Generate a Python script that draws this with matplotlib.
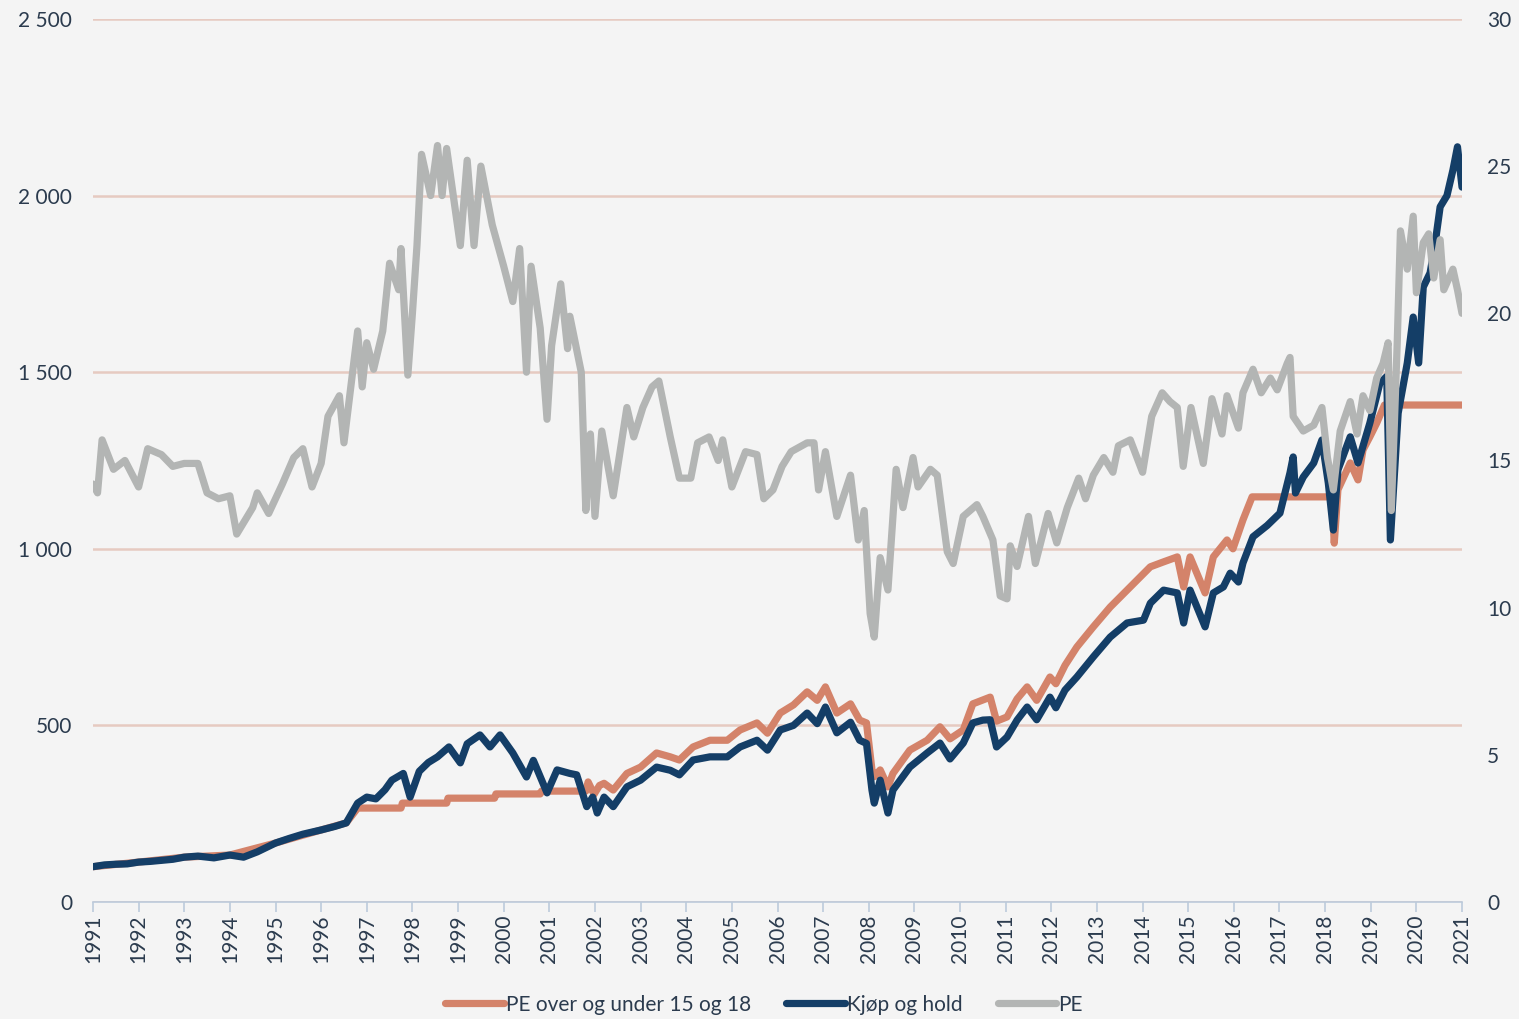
import matplotlib
matplotlib.use("Agg")
import matplotlib.pyplot as plt
from matplotlib.ticker import FuncFormatter, MultipleLocator

# values (decimal year, value)
kjop_aar = [1991.0, 1991.25, 1991.5, 1991.75, 1992.0, 1992.25, 1992.5, 1992.75, 1993.0, 1993.3,
            1993.65, 1994.0, 1994.3, 1994.6, 1995.0, 1995.3, 1995.6, 1996.0, 1996.3, 1996.55,
            1996.8, 1997.0, 1997.2, 1997.4, 1997.55, 1997.8, 1997.95, 1998.15, 1998.35, 1998.55,
            1998.8, 1999.05, 1999.2, 1999.48, 1999.7, 1999.92, 2000.2, 2000.5, 2000.65, 2000.95,
            2001.17, 2001.45, 2001.6, 2001.82, 2001.95, 2002.05, 2002.2, 2002.4, 2002.7, 2003.0,
            2003.35, 2003.65, 2003.85, 2004.15, 2004.52, 2004.9, 2005.18, 2005.55, 2005.78, 2006.06,
            2006.35, 2006.65, 2006.87, 2007.05, 2007.3, 2007.6, 2007.8, 2007.95, 2008.07, 2008.12,
            2008.25, 2008.42, 2008.53, 2008.9, 2009.28, 2009.56, 2009.78, 2010.07, 2010.28, 2010.5,
            2010.66, 2010.8, 2011.03, 2011.25, 2011.47, 2011.68, 2011.97, 2012.1, 2012.3, 2012.56,
            2012.92, 2013.29, 2013.66, 2014.02, 2014.17, 2014.46, 2014.76, 2014.9, 2015.04, 2015.37,
            2015.55, 2015.77, 2015.92, 2016.1, 2016.2, 2016.42, 2016.73, 2017.01, 2017.23, 2017.3,
            2017.35, 2017.52, 2017.75, 2017.93, 2018.07, 2018.18, 2018.28, 2018.55, 2018.72, 2018.98,
            2019.2, 2019.35, 2019.43, 2019.6, 2019.8, 2019.93, 2020.05, 2020.15, 2020.3, 2020.4,
            2020.52, 2020.67, 2020.8, 2020.9, 2021.0]
kjop_og_hold = [100, 105, 107, 108, 113, 115, 118, 121, 127, 130,
                125, 133, 127, 142, 167, 180, 192, 204, 214, 224,
                280, 297, 292, 318, 345, 364, 297, 370, 395, 411,
                439, 394, 448, 473, 439, 473, 422, 354, 401, 309,
                374, 364, 360, 270, 297, 252, 297, 270, 326, 345,
                382, 373, 360, 402, 411, 411, 439, 458, 430, 487,
                500, 535, 505, 552, 479, 509, 458, 449, 317, 280,
                345, 252, 317, 382, 422, 450, 405, 450, 507, 515,
                516, 439, 467, 515, 552, 516, 580, 550, 600, 637,
                694, 750, 790, 798, 846, 883, 875, 790, 883, 779,
                875, 892, 931, 906, 960, 1034, 1066, 1101, 1215, 1260,
                1158, 1203, 1243, 1308, 1186, 1053, 1223, 1317, 1243, 1356,
                1469, 1488, 1025, 1384, 1526, 1656, 1526, 1741, 1781, 1855,
                1968, 2000, 2072, 2138, 2024]

pe_strat_aar = [1991.0, 1992.0, 1993.0, 1994.0, 1995.0, 1996.0, 1996.55, 1996.8, 1997.75, 1997.78,
                1998.75, 1998.78, 1999.8, 1999.83, 2000.8, 2000.83, 2001.8, 2001.85, 2001.98, 2002.1,
                2002.2, 2002.4, 2002.7, 2003.0, 2003.35, 2003.65, 2003.85, 2004.15, 2004.52, 2004.9,
                2005.18, 2005.55, 2005.78, 2006.06, 2006.35, 2006.65, 2006.87, 2007.05, 2007.3, 2007.6,
                2007.8, 2007.95, 2008.07, 2008.12, 2008.25, 2008.42, 2008.53, 2008.9, 2009.28, 2009.56,
                2009.78, 2010.07, 2010.28, 2010.5, 2010.66, 2010.8, 2011.03, 2011.25, 2011.47, 2011.68,
                2011.97, 2012.1, 2012.3, 2012.56, 2012.92, 2013.29, 2013.73, 2014.17, 2014.46, 2014.76,
                2014.9, 2015.04, 2015.37, 2015.55, 2015.85, 2015.98, 2016.2, 2016.4, 2018.15, 2018.2,
                2018.28, 2018.55, 2018.72, 2018.83, 2018.98, 2019.13, 2019.3, 2021.0]
pe_strategi = [100, 113, 127, 133, 167, 204, 224, 266, 266, 280,
               280, 294, 294, 306, 306, 314, 314, 340, 305, 330,
               336, 317, 364, 382, 422, 411, 402, 439, 458, 458,
               487, 507, 478, 535, 558, 595, 571, 609, 535, 561,
               515, 507, 374, 355, 374, 326, 364, 430, 458, 496,
               462, 487, 561, 572, 580, 512, 524, 575, 609, 571,
               637, 618, 670, 722, 779, 835, 892, 949, 963, 977,
               892, 977, 875, 977, 1025, 1000, 1082, 1147, 1147, 1016,
               1167, 1243, 1195, 1280, 1317, 1356, 1407, 1407]

pe_aar = [1991.0, 1991.1, 1991.2, 1991.45, 1991.7, 1992.0, 1992.2, 1992.5, 1992.75, 1993.0,
          1993.3, 1993.5, 1993.75, 1994.0, 1994.15, 1994.5, 1994.6, 1994.85, 1995.15, 1995.4,
          1995.6, 1995.8, 1996.0, 1996.15, 1996.4, 1996.5, 1996.8, 1996.9, 1997.0, 1997.15,
          1997.35, 1997.5, 1997.7, 1997.75, 1997.9, 1998.0, 1998.1, 1998.2, 1998.4, 1998.55,
          1998.65, 1998.75, 1999.05, 1999.2, 1999.35, 1999.5, 1999.75, 2000.0, 2000.2, 2000.35,
          2000.5, 2000.6, 2000.8, 2000.95, 2001.05, 2001.25, 2001.4, 2001.45, 2001.7, 2001.8,
          2001.9, 2002.0, 2002.15, 2002.4, 2002.7, 2002.85, 2003.05, 2003.25, 2003.4, 2003.65,
          2003.85, 2004.1, 2004.25, 2004.5, 2004.7, 2004.8, 2005.0, 2005.3, 2005.55, 2005.7,
          2005.9, 2006.1, 2006.3, 2006.65, 2006.8, 2006.9, 2007.05, 2007.3, 2007.6, 2007.77,
          2007.9, 2008.03, 2008.12, 2008.25, 2008.42, 2008.6, 2008.75, 2008.97, 2009.08, 2009.35,
          2009.5, 2009.72, 2009.85, 2010.07, 2010.37, 2010.5, 2010.72, 2010.88, 2011.03, 2011.1,
          2011.25, 2011.5, 2011.65, 2011.93, 2012.12, 2012.35, 2012.6, 2012.75, 2012.92, 2013.15,
          2013.35, 2013.47, 2013.73, 2014.0, 2014.2, 2014.43, 2014.6, 2014.76, 2014.89, 2015.06,
          2015.33, 2015.52, 2015.74, 2015.85, 2016.1, 2016.2, 2016.42, 2016.6, 2016.8, 2016.95,
          2017.17, 2017.23, 2017.3, 2017.52, 2017.75, 2017.93, 2018.05, 2018.18, 2018.33, 2018.55,
          2018.7, 2018.83, 2018.98, 2019.13, 2019.27, 2019.38, 2019.45, 2019.58, 2019.65, 2019.8,
          2019.93, 2020.0, 2020.15, 2020.27, 2020.38, 2020.52, 2020.6, 2020.8, 2020.9, 2021.0]
pe = [14.2, 13.9, 15.7, 14.7, 15.0, 14.1, 15.4, 15.2, 14.8, 14.9,
      14.9, 13.9, 13.7, 13.8, 12.5, 13.4, 13.9, 13.2, 14.2, 15.1,
      15.4, 14.1, 14.9, 16.5, 17.2, 15.6, 19.4, 17.5, 19.0, 18.1,
      19.4, 21.7, 20.8, 22.2, 17.9, 20.0, 22.3, 25.4, 24.0, 25.7,
      24.0, 25.6, 22.3, 25.2, 22.3, 25.0, 23.0, 21.6, 20.4, 22.2,
      18.0, 21.6, 19.5, 16.4, 18.9, 21.0, 18.8, 19.9, 18.0, 13.3,
      15.9, 13.1, 16.0, 13.8, 16.8, 15.8, 16.8, 17.5, 17.7, 15.8,
      14.4, 14.4, 15.6, 15.8, 15.0, 15.7, 14.1, 15.3, 15.2, 13.7,
      14.0, 14.8, 15.3, 15.6, 15.6, 14.0, 15.3, 13.1, 14.5, 12.3,
      13.3, 9.8, 9.0, 11.7, 10.6, 14.7, 13.4, 15.1, 14.1, 14.7,
      14.5, 11.9, 11.5, 13.1, 13.5, 13.1, 12.3, 10.4, 10.3, 12.1,
      11.4, 13.1, 11.5, 13.2, 12.2, 13.4, 14.4, 13.7, 14.5, 15.1,
      14.6, 15.5, 15.7, 14.6, 16.5, 17.3, 17.0, 16.8, 14.8, 16.8,
      14.9, 17.1, 15.9, 17.2, 16.1, 17.3, 18.1, 17.3, 17.8, 17.4,
      18.3, 18.5, 16.5, 16.0, 16.2, 16.8, 15.1, 14.0, 16.0, 17.0,
      15.9, 17.2, 16.7, 17.8, 18.3, 19.0, 13.3, 19.0, 22.8, 21.5,
      23.3, 20.7, 22.4, 22.7, 21.2, 22.5, 20.8, 21.5, 20.8, 20.0]

years = list(range(1991, 2022))

BG = "#f4f4f4"
TXT = "#2b3b4e"
ORANGE = "#d4836a"
NAVY = "#143e67"
GRAY = "#b3b5b4"
GRID = "#e6cac1"

plt.rcParams["font.family"] = ["Lato", "DejaVu Sans"]

fig = plt.figure(figsize=(15.19, 10.19), dpi=100)
fig.patch.set_facecolor(BG)
ax = fig.add_axes([0.0612, 0.1148, 0.9013, 0.8666])
ax.set_facecolor(BG)
ax2 = ax.twinx()

line_kw = dict(linewidth=5.2, solid_joinstyle="round", solid_capstyle="round")
l1, = ax.plot(pe_strat_aar, pe_strategi, color=ORANGE, label="PE over og under 15 og 18", zorder=3, **line_kw)
l2, = ax.plot(kjop_aar, kjop_og_hold, color=NAVY, label="Kjøp og hold", zorder=4, **line_kw)
l3, = ax2.plot(pe_aar, pe, color=GRAY, label="PE", zorder=5, **line_kw)

ax.set_xlim(1991, 2021)
ax.set_ylim(0, 2500)
ax2.set_ylim(0, 30)

ax.yaxis.set_major_locator(MultipleLocator(500))
ax.yaxis.set_major_formatter(FuncFormatter(lambda v, p: f"{v:,.0f}".replace(",", " ")))
ax2.yaxis.set_major_locator(MultipleLocator(5))

ax.set_xticks(years)
ax.set_xticklabels([str(y) for y in years], rotation=90)

ax.grid(axis="y", color=GRID, linewidth=1.8)
ax.set_axisbelow(True)

for a in (ax, ax2):
    for s in a.spines.values():
        s.set_visible(False)
ax.spines["bottom"].set_visible(True)
ax.spines["bottom"].set_color("#bccadb")
ax.spines["bottom"].set_linewidth(1.2)

ax.tick_params(axis="x", direction="out", length=7, width=1.2, color="#bccadb",
               labelsize=15, labelcolor=TXT, pad=2)
ax.tick_params(axis="y", length=0, labelsize=15, labelcolor=TXT, pad=15)
ax2.tick_params(axis="y", length=0, labelsize=15, labelcolor=TXT, pad=18)

fig.legend(handles=[l1, l2, l3], loc="center", bbox_to_anchor=(0.503, 0.014), ncol=3,
           frameon=False, fontsize=15, labelcolor=TXT, handlelength=2.8,
           handletextpad=0.1, columnspacing=1.7)

fig.savefig("out.png", dpi=100, facecolor=fig.get_facecolor())
